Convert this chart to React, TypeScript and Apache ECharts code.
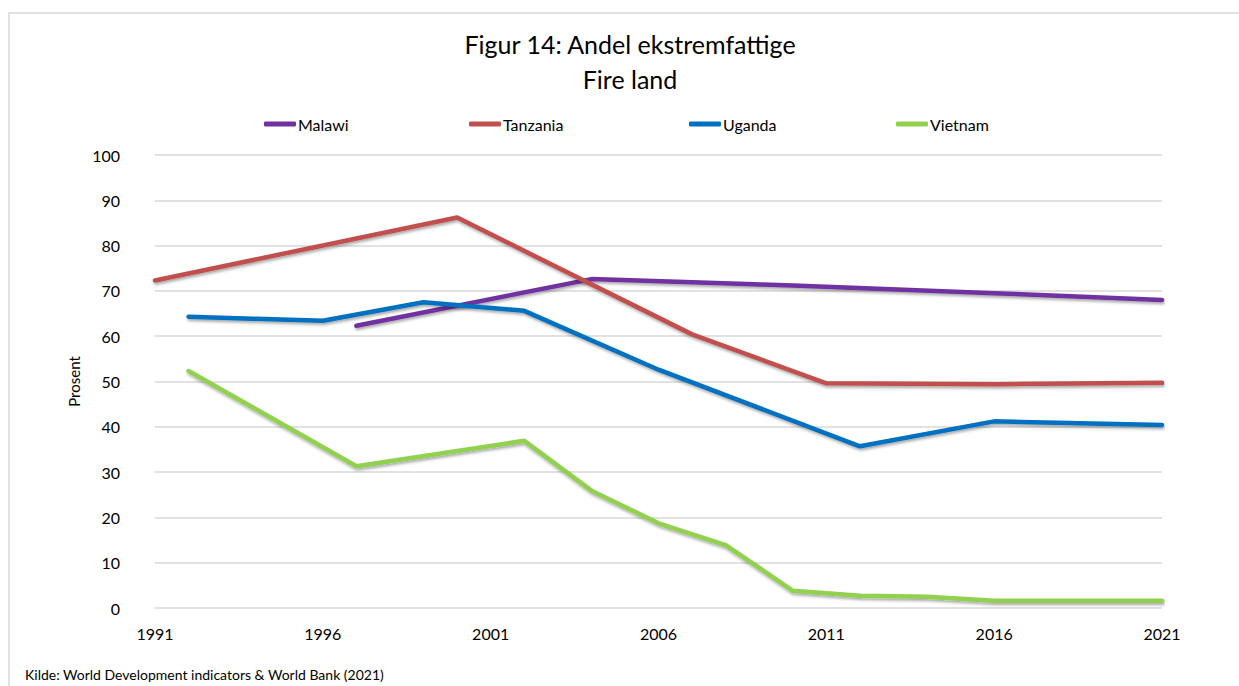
import React, { useEffect, useRef } from "react";
import * as echarts from "echarts";

const titleLines = ["Figur 14: Andel ekstremfattige", "Fire land"];
const sourceText = "Kilde: World Development indicators & World Bank (2021)";
const yAxisName = "Prosent";
const firstYear = 1991;
const lastYear = 2021;
const yearStep = 5;

const seriesNames = ["Malawi", "Tanzania", "Uganda", "Vietnam"];
const seriesColors = ["#7030A0", "#C0504D", "#0070C0", "#92D050"];

const malawi: [number, number][] = [
  [1997, 62.3], [2004, 72.6], [2010, 71.2], [2016, 69.5], [2021, 68.0],
];
const tanzania: [number, number][] = [
  [1991, 72.3], [2000, 86.2], [2007, 60.4], [2011, 49.6], [2016, 49.4], [2021, 49.7],
];
const uganda: [number, number][] = [
  [1992, 64.3], [1996, 63.4], [1999, 67.5], [2002, 65.6], [2006, 52.6],
  [2012, 35.7], [2016, 41.2], [2021, 40.4],
];
const vietnam: [number, number][] = [
  [1992, 52.3], [1997, 31.3], [2002, 36.9], [2004, 25.9], [2006, 18.7],
  [2008, 13.9], [2010, 3.8], [2012, 2.7], [2014, 2.5], [2016, 1.6], [2021, 1.6],
];
const allSeries = [malawi, tanzania, uganda, vietnam];
const legendLefts = [259, 464, 684, 891];

const FONT = "Lato, 'Open Sans', sans-serif";

export default function App() {
  const ref = useRef<HTMLDivElement>(null);
  useEffect(() => {
    if (!ref.current) return;
    const chart = echarts.init(ref.current, null, { renderer: "svg" });
    chart.setOption({
      animation: false,
      backgroundColor: "#ffffff",
      textStyle: { fontFamily: FONT },
      legend: seriesNames.map((n, i) => ({
        data: [n],
        left: legendLefts[i],
        top: 111,
        icon: "roundRect",
        itemWidth: 32,
        itemHeight: 5,
        textStyle: { fontSize: 16, color: "#000", padding: [0, 0, 0, -3], fontFamily: FONT },
      })),
      grid: { left: 155, right: 77, top: 155, bottom: 78, containLabel: false },
      xAxis: {
        type: "value",
        min: 0,
        max: lastYear - firstYear,
        interval: yearStep,
        axisLine: { show: false },
        axisTick: { show: false },
        splitLine: { show: false },
        axisLabel: {
          formatter: (v: number) => String(v + firstYear),
          fontSize: 16,
          color: "#000",
          margin: 17,
          fontFamily: FONT,
        },
      },
      yAxis: {
        type: "value",
        min: 0,
        max: 100,
        interval: 10,
        name: yAxisName,
        nameLocation: "middle",
        nameRotate: 90,
        nameGap: 68,
        nameTextStyle: { fontSize: 15, color: "#000", fontFamily: FONT },
        axisLine: { show: false },
        axisTick: { show: false },
        axisLabel: { fontSize: 16, color: "#000", margin: 35, fontFamily: FONT },
        splitLine: { lineStyle: { color: "#d9d9d9", width: 1.5 } },
      },
      series: seriesNames.map((n, i) => ({
        name: n,
        type: "line",
        showSymbol: false,
        symbol: "none",
        data: allSeries[i].map(([y, v]) => [y - firstYear, v]),
        itemStyle: { color: seriesColors[i] },
        lineStyle: {
          color: seriesColors[i],
          width: 4.5,
          cap: "round",
          join: "round",
          shadowColor: "rgba(0,0,0,0.35)",
          shadowBlur: 3,
          shadowOffsetX: 1,
          shadowOffsetY: 2,
        },
      })),
      graphic: [
        {
          type: "rect",
          shape: { x: 9, y: 13, width: 1240, height: 690 },
          style: { fill: "none", stroke: "#d9d9d9", lineWidth: 1.5 },
          silent: true,
        },
        ...titleLines.map((t, i) => ({
          type: "text",
          x: 630,
          y: 44 + i * 35,
          style: {
            text: t,
            fontSize: 25,
            fill: "#000",
            fontFamily: FONT,
            textAlign: "center",
            textVerticalAlign: "middle",
          },
        })),
        {
          type: "text",
          left: 25,
          top: 667,
          style: { text: sourceText, fontSize: 14, fill: "#000", fontFamily: FONT },
        },
      ],
    });
    return () => chart.dispose();
  }, []);
  return (
    <div
      ref={ref}
      style={{ position: "fixed", left: 0, top: 0, width: 1239, height: 686 }}
    />
  );
}
